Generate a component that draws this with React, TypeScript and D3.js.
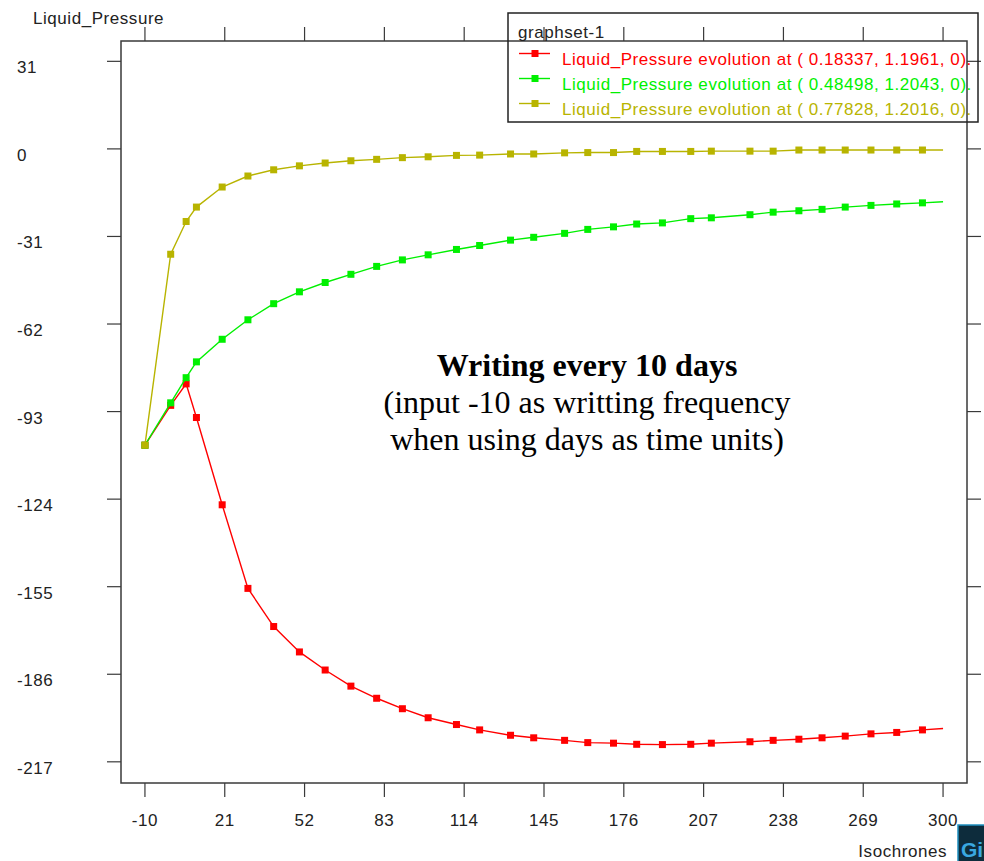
import React from "react";
import * as d3 from "d3";

// Output times (days) of the isochrones
const days = [-10, 0, 6, 10, 20, 30, 40, 50, 60, 70, 80, 90, 100, 111, 120, 132, 141, 153, 162, 172, 181, 191, 202, 210, 225, 234, 244, 253, 262, 272, 282, 292, 300];

// Liquid pressure at three probe points
const pressureA = [-104.9, -90.8, -83.2, -95.1, -126.0, -155.6, -169.1, -178.1, -184.5, -190.2, -194.5, -198.2, -201.4, -203.8, -205.7, -207.6, -208.5, -209.4, -210.2, -210.4, -210.8, -210.9, -210.8, -210.4, -209.9, -209.4, -209.0, -208.5, -207.9, -207.1, -206.6, -205.7, -205.2];
const pressureB = [-104.9, -89.9, -81.0, -75.4, -67.4, -60.5, -54.8, -50.6, -47.3, -44.4, -41.6, -39.3, -37.5, -35.6, -34.2, -32.3, -31.3, -29.9, -28.5, -27.6, -26.6, -26.2, -24.7, -24.4, -23.3, -22.4, -21.9, -21.4, -20.6, -20.0, -19.5, -19.1, -18.7];
const pressureC = [-104.9, -37.3, -25.7, -20.6, -13.5, -9.6, -7.4, -6.0, -5.0, -4.2, -3.7, -3.1, -2.8, -2.3, -2.2, -1.8, -1.8, -1.4, -1.3, -1.3, -0.9, -0.9, -0.9, -0.8, -0.8, -0.8, -0.4, -0.4, -0.4, -0.4, -0.4, -0.4, -0.4];

const seriesLabels = [
  "Liquid_Pressure evolution at ( 0.18337, 1.1961, 0).",
  "Liquid_Pressure evolution at ( 0.48498, 1.2043, 0).",
  "Liquid_Pressure evolution at ( 0.77828, 1.2016, 0).",
];
const seriesColors = ["#ff0000", "#00f000", "#b8b400"];

const xTicks = [-10, 21, 52, 83, 114, 145, 176, 207, 238, 269, 300];
const yTicks = [31, 0, -31, -62, -93, -124, -155, -186, -217];

const noteLines = [
  "Writing every 10 days",
  "(input -10 as writting frequency",
  "when using days as time units)",
];

const W = 984;
const H = 861;
const frame = { left: 121, right: 967, top: 41, bottom: 783 };
const sans = "'Liberation Sans', Arial, Helvetica, sans-serif";
const serif = "'Liberation Serif', 'Times New Roman', serif";
const axisColor = "#3a3a3a";

export default function App() {
  const x = d3.scaleLinear().domain([-19.3, 309.3]).range([frame.left, frame.right]);
  const y = d3.scaleLinear().domain([-224.5, 38.2]).range([frame.bottom, frame.top]);

  const series = [pressureA, pressureB, pressureC].map((vals, i) => ({
    color: seriesColors[i],
    label: seriesLabels[i],
    points: vals.map((v, j) => [days[j], v] as [number, number]),
  }));

  const line = d3
    .line<[number, number]>()
    .x((d) => x(d[0]))
    .y((d) => y(d[1]));

  const tickLen = 14;
  const ms = 7;
  const textStyle = { letterSpacing: "0.55px" } as React.CSSProperties;

  return (
    <svg
      width={W}
      height={H}
      style={{ position: "absolute", left: 0, top: 0, background: "#fff" }}
      fontFamily={sans}
    >
      <rect x={0} y={0} width={W} height={H} fill="#fff" />

      {/* curves with square markers */}
      {series.map((s, i) => (
        <g key={i}>
          <path d={line(s.points) || ""} fill="none" stroke={s.color} strokeWidth={1.4} />
          {s.points.slice(0, -1).map((p, j) => (
            <rect
              key={j}
              x={x(p[0]) - ms / 2}
              y={y(p[1]) - ms / 2}
              width={ms}
              height={ms}
              fill={s.color}
            />
          ))}
        </g>
      ))}

      {/* frame */}
      <rect
        x={frame.left}
        y={frame.top}
        width={frame.right - frame.left}
        height={frame.bottom - frame.top}
        fill="none"
        stroke={axisColor}
        strokeWidth={1.5}
      />

      {/* x ticks, top and bottom */}
      {xTicks.map((t) => (
        <g key={"x" + t}>
          <line x1={x(t)} x2={x(t)} y1={frame.top} y2={frame.top - tickLen} stroke={axisColor} strokeWidth={1.2} />
          <line x1={x(t)} x2={x(t)} y1={frame.bottom} y2={frame.bottom + tickLen} stroke={axisColor} strokeWidth={1.2} />
          <text x={x(t)} y={826} textAnchor="middle" fontSize={17} fill="#222" style={textStyle}>
            {t}
          </text>
        </g>
      ))}

      {/* y ticks, left and right */}
      {yTicks.map((t) => (
        <g key={"y" + t}>
          <line x1={frame.left} x2={frame.left - tickLen} y1={y(t)} y2={y(t)} stroke={axisColor} strokeWidth={1.2} />
          <line x1={frame.right} x2={frame.right + tickLen} y1={y(t)} y2={y(t)} stroke={axisColor} strokeWidth={1.2} />
          <text x={17} y={y(t) + 12} fontSize={17} fill="#222" style={textStyle}>
            {t}
          </text>
        </g>
      ))}

      {/* axis titles */}
      <text x={33} y={24} fontSize={17} fill="#222" style={textStyle}>
        Liquid_Pressure
      </text>
      <text x={947} y={857} textAnchor="end" fontSize={17} fill="#222" style={textStyle}>
        Isochrones
      </text>

      {/* legend */}
      <rect x={508} y={13} width={470} height={109} fill="none" stroke="#222" strokeWidth={1.5} />
      <text x={518} y={38} fontSize={17} fill="#222" style={textStyle}>
        graphset-1
      </text>
      {series.map((s, i) => {
        const ly = 53.5 + i * 25;
        return (
          <g key={"lg" + i}>
            <line x1={519} x2={550} y1={ly} y2={ly} stroke={s.color} strokeWidth={1.4} />
            <rect x={535 - ms / 2} y={ly - ms / 2} width={ms} height={ms} fill={s.color} />
            <text x={562} y={ly + 11} fontSize={17} fill={s.color} style={textStyle}>
              {s.label}
            </text>
          </g>
        );
      })}

      {/* annotation */}
      <g fontFamily={serif} fill="#000" textAnchor="middle">
        <text x={587} y={376} fontSize={32} fontWeight="bold">
          {noteLines[0]}
        </text>
        <text x={587} y={413} fontSize={32}>
          {noteLines[1]}
        </text>
        <text x={587} y={450} fontSize={32}>
          {noteLines[2]}
        </text>
      </g>

      {/* corner badge */}
      <g>
        <rect x={958} y={825} width={30} height={40} fill="#0d2c3c" stroke="#1f8fbf" strokeWidth={1.5} />
        <text x={961} y={857} fontSize={21} fontWeight="bold" fill="#3aa8e0" fontFamily={sans}>
          Gi
        </text>
      </g>
    </svg>
  );
}
